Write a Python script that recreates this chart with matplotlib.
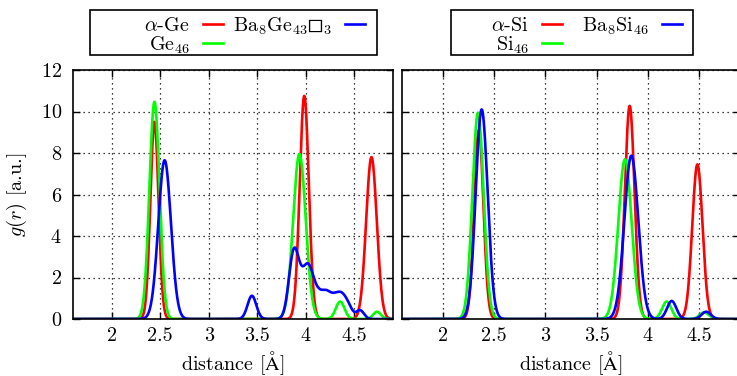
import numpy as np
import matplotlib
matplotlib.use("Agg")
import matplotlib.pyplot as plt
from matplotlib.lines import Line2D
from matplotlib.patches import Rectangle

plt.rcParams["font.family"] = ["cmr10", "DejaVu Serif"]
plt.rcParams["mathtext.fontset"] = "cm"
plt.rcParams["axes.formatter.use_mathtext"] = True
plt.rcParams["font.size"] = 14.5

# Pair-distribution peaks: (distance [Å], peak height, gaussian width [Å])
ge_alpha_peaks = [(2.44, 9.50, 0.042), (3.985, 10.75, 0.047), (4.678, 7.80, 0.055)]
ge46_peaks = [(2.44, 10.47, 0.052), (3.935, 7.95, 0.065), (4.355, 0.84, 0.045), (4.735, 0.35, 0.040)]
ba8ge43_peaks = [(2.545, 7.65, 0.065), (3.445, 1.12, 0.045),
                 (3.875, 3.08, 0.050), (3.955, 1.05, 0.050), (4.03, 2.10, 0.050),
                 (4.12, 0.95, 0.050), (4.21, 1.05, 0.050), (4.30, 0.80, 0.050),
                 (4.38, 0.95, 0.050), (4.45, 0.35, 0.040), (4.56, 0.42, 0.040)]

si_alpha_peaks = [(2.35, 9.10, 0.045), (3.823, 10.27, 0.047), (4.484, 7.45, 0.050)]
si46_peaks = [(2.342, 9.94, 0.055), (3.777, 7.70, 0.065), (4.184, 0.84, 0.045), (4.55, 0.32, 0.045)]
ba8si46_peaks = [(2.378, 10.10, 0.058), (3.839, 7.87, 0.068), (4.233, 0.87, 0.045), (4.57, 0.35, 0.045)]

ge_labels = [r"$\alpha$-Ge", r"Ge$_{46}$", r"Ba$_8$Ge$_{43}◻_3$"]
si_labels = [r"$\alpha$-Si", r"Si$_{46}$", r"Ba$_8$Si$_{46}$"]
series_colors = ["#ff0000", "#00ff00", "#0000ff"]

x_ticks = [2, 2.5, 3, 3.5, 4, 4.5]
x_tick_labels = ["2", "2.5", "3", "3.5", "4", "4.5"]
y_ticks = [0, 2, 4, 6, 8, 10, 12]


def broadened(r, peaks):
    g = np.zeros_like(r)
    for r0, h, w in peaks:
        g += h * np.exp(-0.5 * ((r - r0) / w) ** 2)
    return g


W, H = 737, 376
fig = plt.figure(figsize=(W / 100, H / 100), dpi=100)


def fx(px):
    return px / W


def fy(py):
    return 1 - py / H


ax_ge = fig.add_axes([fx(73), fy(319), (393 - 73) / W, (319 - 70) / H])
ax_si = fig.add_axes([fx(402), fy(319), (740 - 402) / W, (319 - 70) / H])

r = np.linspace(1.6, 4.9, 2000)
panels = [
    (ax_ge, [ge_alpha_peaks, ge46_peaks, ba8ge43_peaks]),
    (ax_si, [si_alpha_peaks, si46_peaks, ba8si46_peaks]),
]

for ax, sets in panels:
    for peaks, c in zip(sets, series_colors):
        ax.plot(r, broadened(r, peaks), color=c, lw=1.9, solid_joinstyle="round")
    ax.set_xlim(1.6, 4.9)
    ax.set_ylim(0, 12)
    ax.set_xticks(x_ticks)
    ax.set_xticklabels(x_tick_labels)
    ax.set_yticks(y_ticks)
    ax.grid(True, color="black", linestyle=(0, (1, 3)), linewidth=0.9)
    ax.set_axisbelow(True)
    ax.tick_params(direction="in", length=5, width=1, top=True, right=True,
                   labelsize=14.5)
    ax.tick_params(axis="x", pad=6)
    ax.tick_params(axis="y", pad=8)
    for s in ax.spines.values():
        s.set_linewidth(1.2)
        s.set_zorder(5)
    ax.set_xlabel(r"distance [$\mathrm{\AA}$]", fontsize=14.5, labelpad=3)

ax_si.set_yticklabels([])
ax_ge.set_ylabel(r"$g(r)$ [a.u.]", fontsize=14.5, labelpad=8)


def key(frame_x0, frame_x1, col_samples, labels):
    # frame
    fig.add_artist(Rectangle((fx(frame_x0), fy(55)), (frame_x1 - frame_x0) / W, 45 / H,
                             transform=fig.transFigure, fill=False, lw=1.2,
                             edgecolor="black"))
    # entries filled column by column, two rows
    rows_y = [24, 43]
    for i, (lab, c) in enumerate(zip(labels, series_colors)):
        col, row = divmod(i, 2)
        sx = col_samples[col]
        y = rows_y[row]
        fig.add_artist(Line2D([fx(sx), fx(sx + 20)], [fy(y), fy(y)],
                              transform=fig.transFigure, color=c, lw=1.9))
        fig.text(fx(sx - 13), fy(y), lab, ha="right", va="center_baseline",
                 fontsize=14.5)


key(90, 377, [203, 345], ge_labels)
key(451, 693, [542, 662], si_labels)

fig.savefig("out.png", dpi=100)
